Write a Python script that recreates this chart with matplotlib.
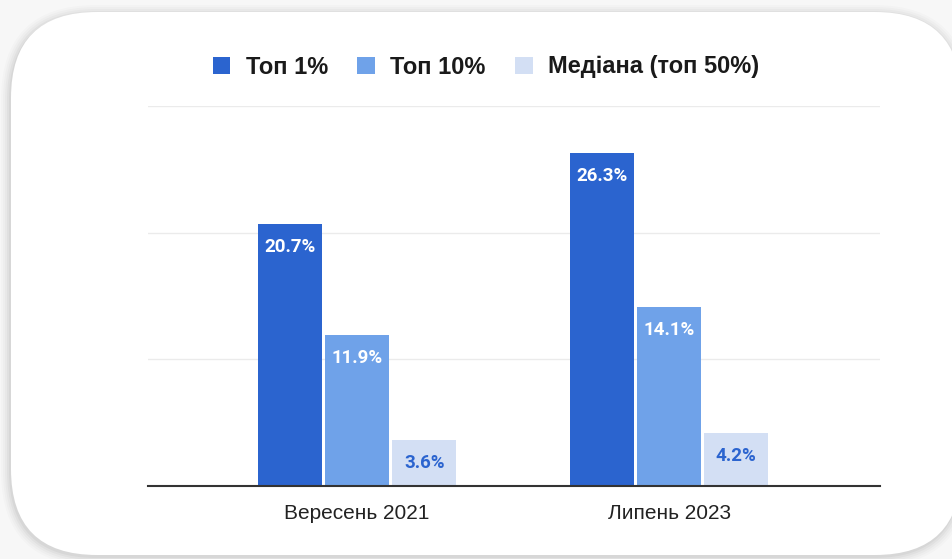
import numpy as np
import matplotlib.pyplot as plt
from matplotlib.patches import FancyBboxPatch

categories = ["Вересень 2021", "Липень 2023"]
series_names = ["Топ 1%", "Топ 10%", "Медіана (топ 50%)"]
top1 = [20.7, 26.3]
top10 = [11.9, 14.1]
median = [3.6, 4.2]

colors = ["#2b64cf", "#6fa2e9", "#d3dff4"]
label_colors = ["white", "white", "#2b64cf"]

plt.rcParams['font.family'] = ['Liberation Sans', 'DejaVu Sans']

fig = plt.figure(figsize=(9.53, 5.59), dpi=100)
fig.patch.set_facecolor("#f7f7f7")

# card with soft shadow
bg = fig.add_axes([0, 0, 1, 1])
bg.set_xlim(0, 953)
bg.set_ylim(559, 0)
bg.axis("off")
for i, a in enumerate([0.035, 0.03, 0.025, 0.02, 0.015]):
    s = 1 + i * 2
    bg.add_patch(FancyBboxPatch((11 - s - 1, 12 - s + 2), 950 + 2 * s, 543 + 2 * s,
                                boxstyle="round,pad=0,rounding_size=%d" % (86 + s),
                                fc="black", ec="none", alpha=a))
bg.add_patch(FancyBboxPatch((11, 12), 950, 543, boxstyle="round,pad=0,rounding_size=86",
                            fc="white", ec="none"))

ax = fig.add_axes([148 / 953, 1 - 486 / 559, 732 / 953, 380 / 559])
ax.set_facecolor("none")

x = np.arange(len(categories))
w = 0.205
step = 0.215
for i, vals in enumerate([top1, top10, median]):
    bars = ax.bar(x + (i - 1) * step, vals, w, color=colors[i], label=series_names[i], zorder=3)
    for b, v in zip(bars, vals):
        ax.annotate("%.1f%%" % v, (b.get_x() + b.get_width() / 2, v),
                    xytext=(0, -10), textcoords="offset points", ha="center", va="top",
                    color=label_colors[i], fontsize=13.5, fontweight="bold",
                    family=["Roboto", "DejaVu Sans"], zorder=4)

ax.set_xlim(-0.67, 1.676)
ax.set_ylim(0, 30)
ax.set_yticks([0, 10, 20, 30])
ax.set_yticklabels([])
ax.yaxis.grid(True, color="#ebebeb", lw=1)
ax.tick_params(axis="y", length=0)
ax.set_xticks(x)
ax.set_xticklabels(categories, fontsize=15, color="#222222")
ax.tick_params(axis="x", length=0, pad=13)
for sp in ["top", "right", "left"]:
    ax.spines[sp].set_visible(False)
ax.spines["bottom"].set_color("#333333")
ax.spines["bottom"].set_linewidth(1.5)
ax.spines["bottom"].set_zorder(5)

leg = fig.legend(loc="center", bbox_to_anchor=(486 / 953, 1 - 67 / 559), ncol=3, frameon=False,
                 prop={"size": 17, "weight": "bold"}, handlelength=0.75, handleheight=0.75,
                 handletextpad=0.65, columnspacing=1.25)
for t in leg.get_texts():
    t.set_color("#1a1a1a")

fig.savefig("out.png", dpi=100, facecolor=fig.get_facecolor())
